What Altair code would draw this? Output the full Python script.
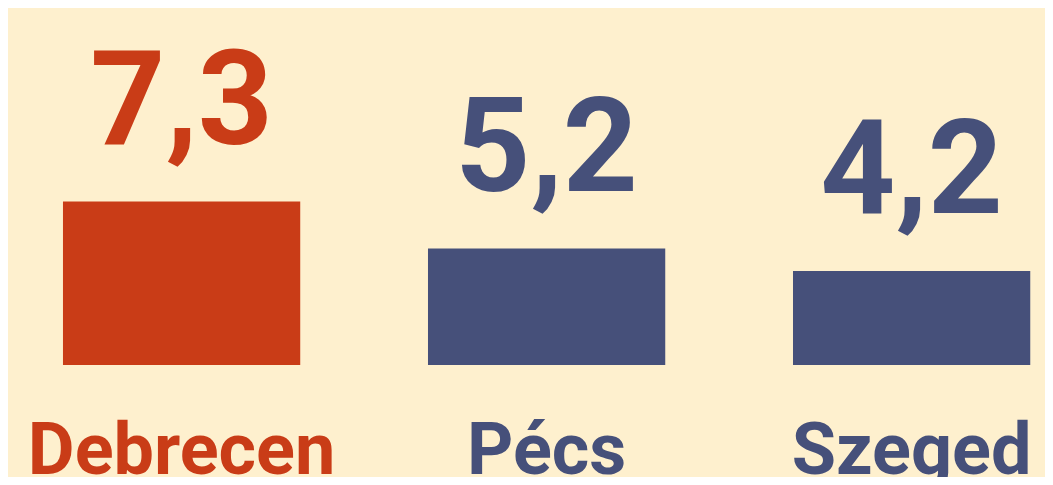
import altair as alt
import pandas as pd

cities = ["Debrecen", "Pécs", "Szeged"]
values = [7.3, 5.2, 4.2]
value_labels = ["7,3", "5,2", "4,2"]
highlight = ["yes", "no", "no"]

df = pd.DataFrame({"city": cities, "value": values, "label": value_labels, "hl": highlight})

RED = "#C93C17"
NAVY = "#46507A"
BG = "#FEF0CE"

x = alt.X("city:N", sort=cities, axis=None,
          scale=alt.Scale(paddingInner=0.35, paddingOuter=0.0955, align=0.7885))
color = alt.Color("hl:N", scale=alt.Scale(domain=["yes", "no"], range=[RED, NAVY]), legend=None)
yscale = alt.Scale(domain=[0, 15.95], nice=False, zero=True)

base = alt.Chart(df)

bars = base.mark_bar().encode(
    x=x,
    y=alt.Y("value:Q", scale=yscale, axis=None),
    color=color,
)

vals = base.mark_text(font="Roboto", fontWeight="bold", fontSize=131, baseline="alphabetic", dy=-58).encode(
    x=x,
    y=alt.Y("value:Q", scale=yscale, axis=None),
    text="label:N",
    color=color,
)

names = base.mark_text(font="Roboto", fontWeight="bold", fontSize=72, baseline="alphabetic", dy=109).encode(
    x=x,
    y=alt.Y(datum=0, scale=yscale, axis=None),
    text="city:N",
    color=color,
)

chart = alt.layer(bars, vals, names).properties(
    width=1037, height=357,
    background=BG,
    padding={"left": 0, "top": 0, "right": 0, "bottom": 112},
    autosize=alt.AutoSizeParams(type="none"),
).configure_view(stroke=None)

chart.save("out.html", embed_options={"renderer": "svg", "actions": False})
